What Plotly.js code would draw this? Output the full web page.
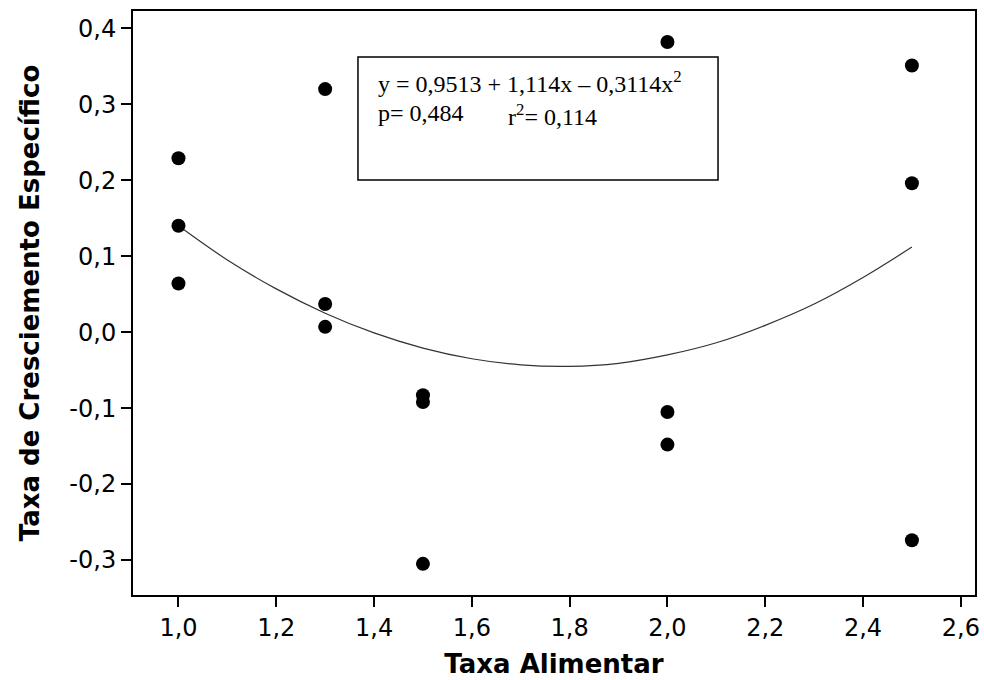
<!DOCTYPE html>
<html>
<head>
<meta charset="utf-8">
<script src="https://cdn.plot.ly/plotly-3.0.1.min.js"></script>
<style>html,body{margin:0;padding:0;background:#fff;}#chart{width:984px;height:680px;}</style>
</head>
<body>
<div id="chart"></div>
<script>
// Observed data points (Taxa Alimentar vs Taxa de Crescimento Específico)
const taxaAlimentar = [1.0, 1.0, 1.0, 1.3, 1.3, 1.3, 1.5, 1.5, 1.5, 2.0, 2.0, 2.0, 2.5, 2.5, 2.5];
const taxaCrescimento = [0.229, 0.140, 0.064, 0.320, 0.037, 0.007, -0.083, -0.092, -0.305, 0.382, -0.105, -0.148, 0.351, 0.196, -0.274];

// Fitted curve, values
const curveX = [1.0, 1.1, 1.2, 1.3, 1.4, 1.5, 1.6, 1.7, 1.8, 1.9, 2.0, 2.1, 2.2, 2.3, 2.4, 2.5];
const curveY = [0.140, 0.095, 0.057, 0.025, -0.001, -0.021, -0.035, -0.043, -0.045, -0.041, -0.030, -0.014, 0.009, 0.037, 0.072, 0.112];

// Tick labels
const xTickVals = [1.0, 1.2, 1.4, 1.6, 1.8, 2.0, 2.2, 2.4, 2.6];
const xTickText = ["1,0", "1,2", "1,4", "1,6", "1,8", "2,0", "2,2", "2,4", "2,6"];
const yTickVals = [-0.3, -0.2, -0.1, 0.0, 0.1, 0.2, 0.3, 0.4];
const yTickText = ["-0,3", "-0,2", "-0,1", "0,0", "0,1", "0,2", "0,3", "0,4"];

const eqLine1 = "y = 0,9513 + 1,114x – 0,3114x<sup>2</sup>";
const eqP = "p= 0,484";
const eqR = "r<sup>2</sup>= 0,114";

const traces = [
  {
    x: curveX, y: curveY, type: 'scatter', mode: 'lines',
    line: {color: '#333333', width: 1.2, shape: 'spline'},
    hoverinfo: 'skip', showlegend: false
  },
  {
    x: taxaAlimentar, y: taxaCrescimento, type: 'scatter', mode: 'markers',
    marker: {color: '#000000', size: 14, symbol: 'circle'},
    showlegend: false
  }
];

const tickFont = {family: 'DejaVu Sans, Verdana, sans-serif', size: 24, color: '#000'};
const titleFont = {family: 'DejaVu Sans, Verdana, sans-serif', size: 26, color: '#000', weight: 'bold'};
const serifFont = {family: 'Liberation Serif, Times New Roman, serif', size: 24, color: '#000'};

const layout = {
  width: 984, height: 680,
  margin: {l: 133, r: 9, t: 11, b: 85, pad: 0},
  paper_bgcolor: '#fff', plot_bgcolor: '#fff',
  showlegend: false,
  xaxis: {
    range: [0.907, 2.629],
    tickvals: xTickVals, ticktext: xTickText,
    ticks: 'outside', ticklen: 10, tickwidth: 2, tickcolor: '#000',
    showline: true, linewidth: 2, linecolor: '#000', mirror: true,
    showgrid: false, zeroline: false,
    tickfont: tickFont,
    title: {text: '<b>Taxa Alimentar</b>', font: titleFont, standoff: 14}
  },
  yaxis: {
    range: [-0.346, 0.4228],
    tickvals: yTickVals, ticktext: yTickText,
    ticks: 'outside', ticklen: 10, tickwidth: 2, tickcolor: '#000',
    showline: true, linewidth: 2, linecolor: '#000', mirror: true,
    showgrid: false, zeroline: false,
    tickfont: tickFont,
    title: {text: '<b>Taxa de Cresciemento Específico</b>', font: titleFont, standoff: 22}
  },
  shapes: [
    {type: 'rect', xref: 'paper', yref: 'paper', x0: 0.2672, x1: 0.6948, y0: 0.7106, y1: 0.9212,
     line: {color: '#000', width: 1.5}, fillcolor: 'rgba(0,0,0,0)'}
  ],
  annotations: [
    {xref: 'paper', yref: 'paper', x: 0.2898, y: 0.851, xanchor: 'left', yanchor: 'bottom',
     text: eqLine1, showarrow: false, font: serifFont, borderpad: 0},
    {xref: 'paper', yref: 'paper', x: 0.2898, y: 0.849, xanchor: 'left', yanchor: 'top',
     text: eqP, showarrow: false, font: serifFont, borderpad: 0},
    {xref: 'paper', yref: 'paper', x: 0.4442, y: 0.849, xanchor: 'left', yanchor: 'top',
     text: eqR, showarrow: false, font: serifFont, borderpad: 0}
  ]
};

Plotly.newPlot('chart', traces, layout, {staticPlot: true, displayModeBar: false});
</script>
</body>
</html>
